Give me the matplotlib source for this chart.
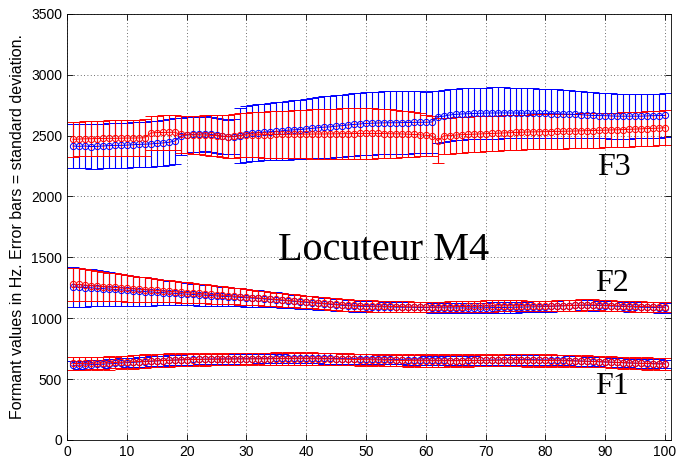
import numpy as np
import matplotlib
matplotlib.use("Agg")
import matplotlib.pyplot as plt

# frame index 1..100
x = np.arange(1, 101)

# ---- F3 ----
b3_mean = [2415, 2412, 2415, 2410, 2412, 2415, 2418, 2420, 2420, 2422, 2425, 2428, 2430, 2432, 2436, 2440, 2445,
           2455, 2495, 2505, 2510, 2512, 2515, 2510, 2505, 2495, 2490, 2492, 2500,
           2515, 2520, 2525, 2530, 2532, 2535, 2540, 2545, 2548, 2550, 2555, 2560, 2565, 2570, 2572, 2578, 2582,
           2588, 2592, 2596, 2600,
           2602, 2604, 2605, 2606, 2606, 2607, 2608, 2609, 2610, 2610, 2612,
           2655, 2660, 2670, 2675, 2678, 2680, 2682, 2684, 2685, 2686, 2686, 2687, 2686, 2686, 2685,
           2684, 2684, 2683, 2682, 2681, 2680, 2678, 2676, 2674, 2672,
           2668, 2666, 2665, 2664, 2662, 2660, 2660, 2660, 2660, 2660, 2662, 2664, 2665, 2666]
b3_std = [180, 180, 182, 182, 183, 183, 184, 184, 185, 185, 185, 186, 186, 186, 187, 187, 188,
          188, 150, 148, 146, 145, 145, 145, 144, 143, 142, 142,
          225, 228, 230, 232, 234, 236, 238, 240, 242, 244, 246, 248, 250, 252, 253, 254, 255, 256, 256, 257,
          258, 258,
          258, 258, 258, 258, 257, 256, 255, 254, 253, 252, 251,
          212, 212, 212, 211, 211, 210, 210, 210, 210, 210, 210, 209, 208, 207, 206,
          205, 205, 204, 204, 203, 202, 200, 198, 196, 194,
          190, 189, 188, 187, 186, 185, 184, 184, 183, 183, 182, 182, 181, 181]
r3_mean = [2470, 2472, 2474, 2475, 2476, 2477, 2478, 2478, 2479, 2480, 2480, 2481, 2482,
           2522, 2525, 2526, 2527, 2528,
           2510, 2508, 2506, 2505, 2505, 2502, 2500, 2495, 2492, 2495,
           2502, 2505, 2506, 2508, 2508, 2509, 2510, 2510, 2511, 2512, 2512, 2513, 2513, 2514, 2514, 2515, 2515,
           2516, 2516, 2517, 2518, 2518,
           2518, 2518, 2517, 2516, 2515, 2514, 2512, 2510, 2507, 2503, 2498,
           2460,
           2498, 2500, 2505, 2508, 2510, 2512, 2514, 2516, 2518, 2520, 2522, 2524, 2526, 2528, 2530, 2531, 2532,
           2533, 2534, 2535, 2536, 2537, 2538, 2540, 2541, 2542, 2544, 2545, 2547, 2548, 2550, 2552, 2554, 2556,
           2558, 2560, 2562, 2565]
r3_std = [142, 143, 144, 145, 145, 146, 147, 148, 148, 149, 150, 151, 152,
          140, 140, 141, 141, 142,
          150, 152, 155, 158, 162, 166, 170, 174, 178, 180,
          181, 183, 185, 187, 189, 190, 192, 194, 195, 197, 199, 200, 202, 203, 205, 206, 207, 208, 209, 210,
          211, 212,
          208, 205, 202, 199, 196, 192, 187, 182, 176, 170, 165,
          185,
          148, 148, 148, 147, 147, 146, 146, 145, 145, 145, 144, 144, 144, 143, 143, 143, 143, 142, 142, 142,
          142, 142, 142, 142, 142, 142, 142, 142, 142, 142, 142, 142, 142, 142, 142, 142, 142, 142]

# ---- F2 ----
b2_mean = [1257, 1255, 1252, 1250, 1246, 1243, 1240, 1236, 1233, 1230,
           1226, 1222, 1219, 1216, 1213, 1210, 1207, 1204, 1201, 1198,
           1195, 1192, 1189, 1186, 1183, 1180, 1177, 1174, 1171, 1168,
           1165, 1162, 1158, 1154, 1150, 1146, 1142, 1138, 1134, 1130,
           1126, 1122, 1118, 1114, 1110, 1106, 1103, 1100, 1098, 1096,
           1095, 1094, 1093, 1092, 1091, 1090, 1090, 1089, 1088, 1088,
           1087, 1086, 1085, 1085, 1084, 1084, 1084, 1085, 1085, 1086,
           1087, 1088, 1088, 1089, 1090, 1091, 1092, 1093, 1094, 1096,
           1098, 1100, 1102, 1104, 1105, 1106, 1106, 1105, 1104, 1102,
           1100, 1098, 1096, 1094, 1092, 1090, 1089, 1088, 1087, 1086]
b2_std = [164, 160, 156, 152, 148, 144, 140, 136, 132, 128,
          124, 120, 116, 112, 108, 105, 102, 99, 96, 93,
          90, 88, 86, 84, 82, 80, 78, 76, 74, 72,
          70, 68, 66, 64, 62, 60, 58, 56, 55, 54,
          53, 52, 51, 50, 49, 48, 47, 46, 46, 45,
          45, 44, 44, 43, 43, 42, 42, 42, 41, 41,
          41, 40, 40, 40, 40, 40, 41, 41, 42, 42,
          42, 43, 43, 43, 44, 44, 44, 45, 45, 45,
          45, 44, 44, 43, 43, 42, 42, 42, 41, 41,
          40, 40, 40, 40, 40, 40, 41, 41, 42, 42]
r2_mean = [1280, 1277, 1272, 1268, 1264, 1260, 1256, 1253, 1250, 1246,
           1242, 1238, 1235, 1231, 1228, 1224, 1220, 1217, 1213, 1210,
           1206, 1203, 1199, 1196, 1192, 1189, 1185, 1181, 1178, 1174,
           1170, 1166, 1162, 1158, 1154, 1150, 1146, 1142, 1138, 1134,
           1130, 1126, 1122, 1118, 1114, 1111, 1108, 1106, 1104, 1102,
           1100, 1099, 1098, 1097, 1096, 1095, 1094, 1093, 1093, 1092,
           1092, 1092, 1093, 1094, 1095, 1096, 1097, 1098, 1099, 1100,
           1100, 1101, 1101, 1102, 1102, 1102, 1101, 1101, 1100, 1100,
           1100, 1101, 1102, 1104, 1106, 1108, 1110, 1110, 1108, 1106,
           1104, 1102, 1100, 1098, 1097, 1096, 1095, 1094, 1093, 1092]
r2_std = [136, 133, 130, 127, 124, 121, 118, 115, 112, 109,
          106, 103, 100, 97, 94, 92, 90, 88, 86, 84,
          82, 80, 78, 76, 74, 72, 70, 68, 66, 64,
          62, 60, 58, 57, 56, 55, 54, 53, 52, 51,
          50, 50, 49, 49, 48, 48, 47, 47, 46, 46,
          46, 46, 45, 45, 45, 44, 44, 44, 44, 43,
          43, 43, 43, 44, 44, 44, 45, 45, 45, 46,
          46, 46, 45, 45, 45, 44, 44, 44, 44, 44,
          44, 45, 45, 46, 46, 46, 45, 45, 44, 44,
          44, 43, 43, 43, 43, 42, 42, 42, 42, 42]

# ---- F1 ----
b1_mean = [612, 614, 616, 618, 620, 622, 625, 628, 631, 634,
           637, 640, 643, 646, 649, 652, 654, 656, 658, 660,
           661, 662, 663, 664, 665, 665, 666, 666, 667, 667,
           667, 668, 668, 668, 669, 669, 669, 670, 670, 670,
           670, 670, 669, 669, 668, 668, 667, 667, 666, 665,
           664, 663, 662, 661, 660, 659, 658, 657, 656, 655,
           654, 653, 653, 652, 652, 652, 653, 653, 654, 655,
           656, 657, 658, 659, 660, 660, 660, 659, 658, 657,
           656, 655, 654, 652, 650, 648, 646, 644, 642, 640,
           638, 636, 634, 632, 630, 629, 628, 627, 626, 625]
b1_std = [35, 35, 36, 36, 37, 37, 38, 38, 39, 39,
          40, 40, 40, 41, 41, 41, 42, 42, 42, 42,
          42, 42, 42, 42, 41, 41, 41, 40, 40, 40,
          40, 40, 40, 40, 40, 40, 41, 41, 41, 41,
          42, 42, 42, 42, 42, 42, 41, 41, 41, 40,
          40, 40, 40, 40, 40, 39, 39, 39, 39, 38,
          38, 38, 38, 38, 38, 39, 39, 39, 40, 40,
          40, 40, 41, 41, 41, 41, 42, 42, 42, 42,
          42, 41, 41, 40, 40, 39, 39, 38, 38, 38,
          37, 37, 37, 36, 36, 36, 35, 35, 35, 35]
r1_mean = [628, 628, 629, 630, 631, 632, 634, 636, 638, 640,
           642, 644, 646, 648, 650, 652, 654, 656, 658, 659,
           660, 661, 662, 663, 663, 664, 664, 665, 665, 665,
           666, 666, 666, 666, 667, 667, 667, 667, 667, 667,
           666, 666, 665, 665, 664, 663, 662, 661, 660, 659,
           658, 657, 656, 655, 654, 653, 652, 651, 650, 650,
           650, 650, 650, 651, 651, 652, 652, 653, 653, 654,
           654, 655, 655, 656, 656, 656, 655, 655, 654, 653,
           652, 651, 650, 649, 648, 647, 646, 645, 643, 641,
           639, 637, 635, 633, 631, 629, 627, 625, 624, 623]
r1_std = [55, 50, 56, 48, 54, 50, 57, 49, 55, 52,
          58, 50, 56, 49, 55, 51, 57, 50, 54, 48,
          52, 47, 53, 46, 51, 45, 52, 46, 50, 45,
          51, 46, 52, 47, 53, 48, 54, 49, 55, 50,
          53, 48, 52, 47, 51, 46, 50, 45, 49, 44,
          48, 44, 49, 45, 50, 46, 51, 47, 52, 48,
          53, 48, 52, 47, 51, 46, 50, 45, 49, 44,
          50, 45, 51, 46, 52, 47, 53, 48, 52, 47,
          51, 46, 50, 45, 49, 44, 48, 43, 47, 42,
          48, 43, 49, 44, 50, 45, 51, 46, 52, 47]

blue_series = [(b1_mean, b1_std), (b2_mean, b2_std), (b3_mean, b3_std)]
red_series = [(r1_mean, r1_std), (r2_mean, r2_std), (r3_mean, r3_std)]

fig = plt.figure(figsize=(6.79, 4.65), dpi=100)
ax = fig.add_axes([0.0987, 0.054, 0.8895, 0.916])

style = dict(fmt='-o', mfc='none', ms=4.5, lw=0.7, elinewidth=0.8,
             capsize=4.0, capthick=0.8, mew=0.7)
for m, s in blue_series:
    ax.errorbar(x, m, yerr=s, color='blue', **style)
for m, s in red_series:
    ax.errorbar(x, m, yerr=s, color='red', **style)

serif = ['Liberation Serif', 'DejaVu Serif']
ax.text(35.3, 1480, 'Locuteur M4', fontsize=29, family=serif)
ax.text(88.6, 2180, 'F3', fontsize=23, family=serif)
ax.text(88.3, 1220, 'F2', fontsize=23, family=serif)
ax.text(88.3, 380, 'F1', fontsize=23, family=serif)

ax.set_xlim(0, 101)
ax.set_ylim(0, 3500)
ax.set_xticks(np.arange(0, 101, 10))
ax.set_yticks(np.arange(0, 3501, 500))
ax.grid(True, linestyle=(0, (1, 3)), color='0.25', linewidth=0.6)
ax.tick_params(direction='in', top=True, right=True, length=4, width=0.6,
               labelsize=10)
for lab in ax.get_xticklabels() + ax.get_yticklabels():
    lab.set_family('Liberation Sans')
ax.set_ylabel('Formant values in Hz. Error bars = standard deviation.',
              fontsize=11.5, family='Liberation Sans', labelpad=4)
for sp in ax.spines.values():
    sp.set_linewidth(0.6)

fig.savefig('out.png', dpi=100)
